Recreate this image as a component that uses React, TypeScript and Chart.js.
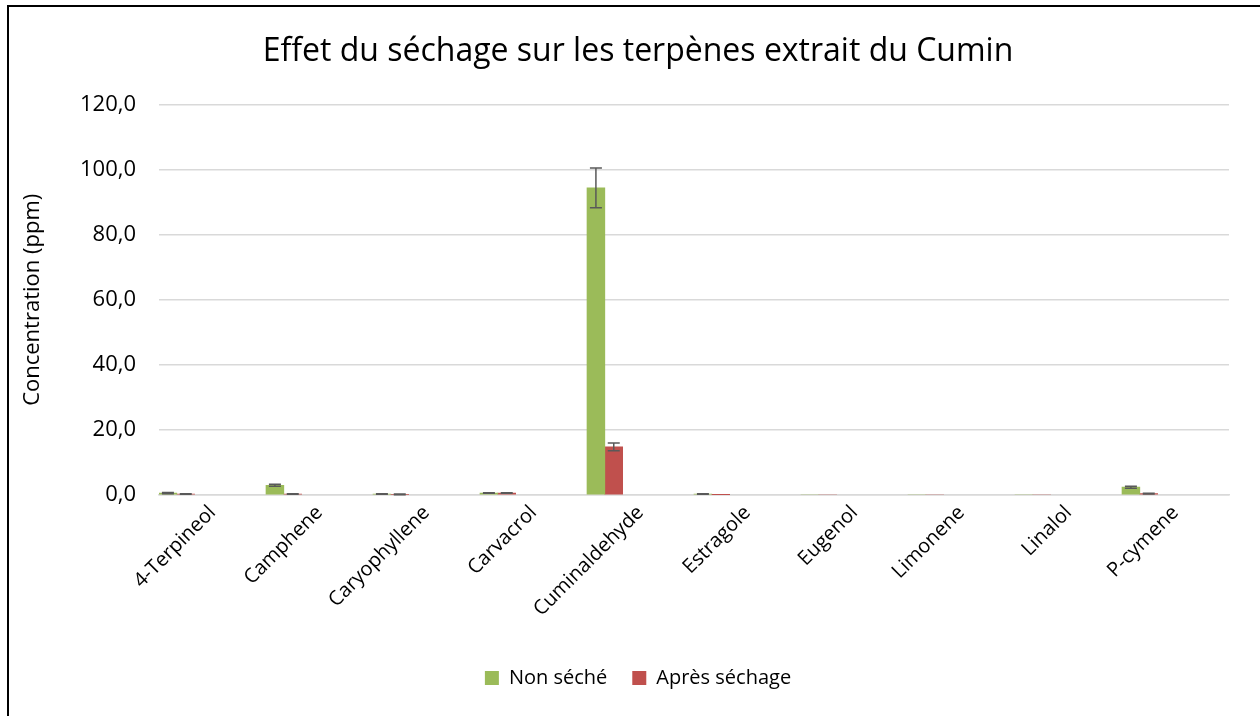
import React, { useEffect, useRef } from "react";
import { Chart, registerables } from "chart.js";

Chart.register(...registerables);

const categories = [
  "4-Terpineol",
  "Camphene",
  "Caryophyllene",
  "Carvacrol",
  "Cuminaldehyde",
  "Estragole",
  "Eugenol",
  "Limonene",
  "Linalol",
  "P-cymene",
];
const nonSeche = [0.6, 3.0, 0.3, 0.6, 94.4, 0.3, 0, 0, 0, 2.4];
const nonSecheErr = [0.2, 0.3, 0.1, 0.1, 6.1, 0.1, 0, 0, 0, 0.3];
const apresSechage = [0.3, 0.3, 0.2, 0.6, 14.8, 0.1, 0, 0, 0, 0.4];
const apresSechageErr = [0.1, 0.1, 0.1, 0.1, 1.2, 0, 0, 0, 0, 0.1];
const yTicks = [0, 20, 40, 60, 80, 100, 120];
const seriesNames = ["Non séché", "Après séchage"];
const seriesColors = ["#9BBB59", "#C0504D"];
// the source sheet has 4 more (empty, unlisted) series columns per category
const emptySeriesCount = 4;

const FONT = "'Open Sans', sans-serif";

const errorBarPlugin = {
  id: "errorBars",
  afterDatasetsDraw(chart: any) {
    const ctx = chart.ctx;
    const yScale = chart.scales.y;
    chart.data.datasets.forEach((ds: any, di: number) => {
      if (!ds.errors) return;
      const meta = chart.getDatasetMeta(di);
      meta.data.forEach((el: any, i: number) => {
        const v = ds.data[i];
        const e = ds.errors[i];
        if (v == null || !e) return;
        const x = el.x;
        const yT = yScale.getPixelForValue(v + e);
        const yB = yScale.getPixelForValue(Math.max(v - e, 0));
        ctx.save();
        ctx.strokeStyle = "#595959";
        ctx.lineWidth = 1.5;
        ctx.beginPath();
        ctx.moveTo(x, yT);
        ctx.lineTo(x, yB);
        ctx.moveTo(x - 6, yT);
        ctx.lineTo(x + 6, yT);
        ctx.moveTo(x - 6, yB);
        ctx.lineTo(x + 6, yB);
        ctx.stroke();
        ctx.restore();
      });
    });
  },
};

export default function App() {
  const ref = useRef<HTMLCanvasElement | null>(null);

  useEffect(() => {
    if (!ref.current) return;
    const datasets: any[] = [
      {
        label: seriesNames[0],
        data: nonSeche,
        errors: nonSecheErr,
        backgroundColor: seriesColors[0],
      },
      {
        label: seriesNames[1],
        data: apresSechage,
        errors: apresSechageErr,
        backgroundColor: seriesColors[1],
      },
    ];
    for (let k = 0; k < emptySeriesCount; k++) {
      datasets.push({
        label: "",
        data: categories.map(() => null),
        backgroundColor: "rgba(0,0,0,0)",
      });
    }
    const chart = new Chart(ref.current, {
      type: "bar",
      data: { labels: categories, datasets },
      plugins: [errorBarPlugin],
      options: {
        animation: false,
        responsive: false,
        maintainAspectRatio: false,
        layout: { padding: { left: 47, right: 31, top: 0, bottom: 18 } },
        datasets: {
          bar: { categoryPercentage: 1, barPercentage: 1 },
        },
        plugins: {
          title: {
            display: true,
            text: "Effet du séchage sur les terpènes extrait du Cumin",
            color: "#000",
            font: { family: FONT, size: 32, weight: "normal" },
            padding: { top: 33, bottom: 33.2 },
          },
          legend: {
            position: "bottom",
            labels: {
              filter: (item: any) => item.text !== "",
              color: "#000",
              font: { family: FONT, size: 20 },
              boxWidth: 14,
              boxHeight: 14,
              padding: 25,
            },
          },
          tooltip: { enabled: false },
        },
        scales: {
          x: {
            grid: { display: false, drawTicks: false },
            border: { display: true, color: "#D9D9D9", width: 1.5 },
            ticks: {
              autoSkip: false,
              maxRotation: 45,
              minRotation: 45,
              color: "#000",
              font: { family: FONT, size: 20 },
              padding: 6,
            },
            afterFit: (s: any) => {
              s.height = 148;
            },
          },
          y: {
            min: 0,
            max: 120,
            afterBuildTicks: (s: any) => {
              s.ticks = yTicks.map((v) => ({ value: v }));
            },
            grid: { color: "#D9D9D9", lineWidth: 1.5, drawTicks: false },
            border: { display: false },
            ticks: {
              color: "#000",
              font: { family: FONT, size: 22 },
              padding: 23,
              callback: (v: any) => Number(v).toFixed(1).replace(".", ","),
            },
            title: {
              display: true,
              text: "Concentration (ppm)",
              color: "#000",
              font: { family: FONT, size: 22 },
              padding: { top: -27.2, bottom: 0 },
            },
            afterFit: (s: any) => {
              s.width = 112;
            },
          },
        },
      } as any,
    });
    return () => chart.destroy();
  }, []);

  return (
    <div
      style={{
        position: "fixed",
        left: 0,
        top: 0,
        width: 1260,
        height: 716,
        background: "#fff",
        overflow: "hidden",
      }}
    >
      <canvas
        ref={ref}
        width={1260}
        height={716}
        style={{ position: "absolute", left: 0, top: 0, width: 1260, height: 716 }}
      />
      <div
        style={{
          position: "absolute",
          left: 7,
          top: 5,
          width: 1260,
          height: 720,
          borderLeft: "2px solid #000",
          borderTop: "2px solid #000",
          pointerEvents: "none",
        }}
      />
    </div>
  );
}
